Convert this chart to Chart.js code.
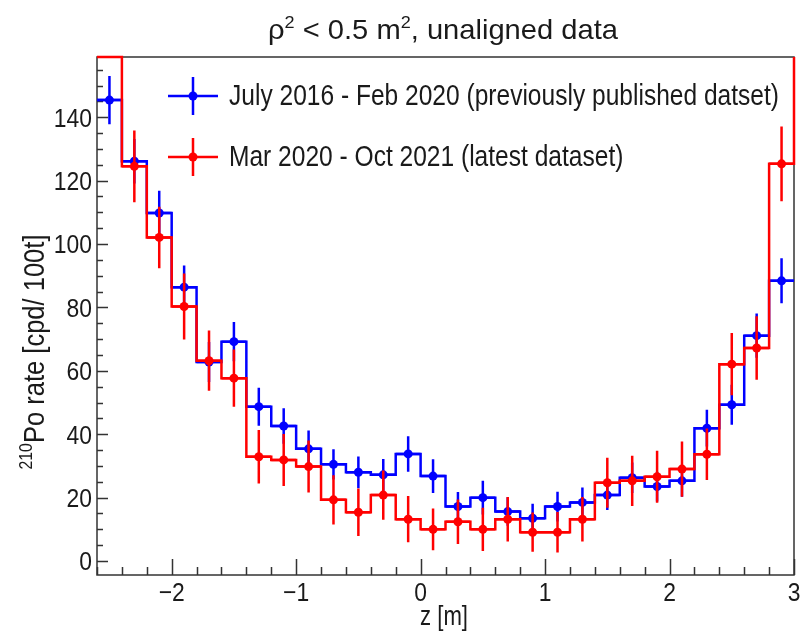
<!DOCTYPE html>
<html>
<head>
<meta charset="utf-8">
<script src="https://cdn.jsdelivr.net/npm/chart.js@4.4.1/dist/chart.umd.min.js"></script>
<style>
  html, body { margin: 0; padding: 0; background: #fff; }
  #wrap { width: 809px; height: 635px; position: relative; }
</style>
</head>
<body>
<div id="wrap"><canvas id="po_chart"></canvas></div>
<script>
const FONT = '"Liberation Sans", Arial, Helvetica, sans-serif';
const TEXT_COLOR = '#1a1a1a';

// bin centres along z [m], bins are 0.2 m wide
const binWidth = 0.2;
const zCenters = [-2.5, -2.3, -2.1, -1.9, -1.7, -1.5, -1.3, -1.1, -0.9, -0.7, -0.5, -0.3, -0.1,
                  0.1, 0.3, 0.5, 0.7, 0.9, 1.1, 1.3, 1.5, 1.7, 1.9, 2.1, 2.3, 2.5, 2.7, 2.9];

// July 2016 - Feb 2020 (previously published)
const blueRate = [145.4, 126.1, 109.8, 86.4, 62.8, 69.2, 48.7, 42.6, 35.4, 30.5, 28.0, 27.2, 33.8,
                  26.8, 17.2, 20.0, 15.6, 13.5, 17.2, 18.5, 20.8, 26.3, 23.5, 25.3, 41.9, 49.3, 71.1, 88.4];
const blueErr = [7.6, 7.0, 7.0, 6.8, 6.3, 6.2, 6.0, 5.6, 5.8, 4.8, 5.0, 5.0, 5.6,
                 5.3, 4.6, 5.3, 4.5, 4.6, 4.7, 4.7, 4.7, 4.8, 4.7, 5.0, 5.8, 6.3, 7.0, 7.1];

// Mar 2020 - Oct 2021 (latest), first bin is above the frame
const redRate = [175, 124.5, 102.1, 80.3, 63.2, 57.7, 32.9, 31.9, 29.8, 19.3, 15.4, 20.8, 13.2,
                 10.0, 12.4, 10.0, 13.2, 9.1, 9.1, 13.2, 24.7, 25.3, 26.6, 29.0, 33.7, 62.1, 67.2, 125.3];
const redErr = [13, 11.3, 9.7, 10.4, 9.5, 9.0, 8.4, 8.2, 8.2, 7.8, 7.5, 7.8, 7.3,
                6.6, 7.0, 6.8, 7.0, 6.2, 6.4, 7.0, 7.9, 7.9, 8.2, 8.7, 8.1, 9.8, 10.0, 11.8];
// the red histogram climbs out of the frame again at the right edge
const redOverflow = 175;

const seriesLabels = ['July 2016 - Feb 2020 (previously published datset)',
                      'Mar 2020 - Oct 2021 (latest dataset)'];
const seriesColors = ['#0000ff', '#ff0000'];

const xTickValues = [-2, -1, 0, 1, 2, 3];
const yTickValues = [0, 20, 40, 60, 80, 100, 120, 140];
const xMin = -2.6, xMax = 3.0;
const yMin = -4.4, yMax = 159;

// the picture is squeezed sideways, so text is drawn a bit narrow
const TICK_SIZE = 26;
const TICK_SX = 0.88;

// histogram outline: one point per left bin edge, plus the closing right edge
function stepPoints(values, lastValue) {
    let pts = values.map((v, i) => ({x: zCenters[i] - binWidth / 2, y: Math.min(v, yMax)}));
    pts.push({x: zCenters[zCenters.length - 1] + binWidth / 2, y: Math.min(lastValue, yMax)});
    return pts;
}

function markerPoints(values, errors) {
    return values.map((v, i) => ({x: zCenters[i], y: v, err: errors[i]}));
}

// minus sign the way ROOT prints it
function fmtTick(v) {
    return v < 0 ? '\u2212' + Math.abs(v) : String(v);
}

function richWidth(ctx, parts, size) {
    let total = 0;
    for (const p of parts) {
        ctx.font = (p[1] ? size * 0.62 : size) + 'px ' + FONT;
        total += ctx.measureText(p[0]).width;
    }
    return total;
}

// text with superscript pieces: parts = [[text, isSup], ...], sx = horizontal squeeze
function drawRich(ctx, parts, x, y, size, align, sx) {
    let total = richWidth(ctx, parts, size);
    ctx.save();
    ctx.translate(x, y);
    ctx.scale(sx, 1);
    let cx = 0;
    if (align === 'center') cx = -total / 2;
    if (align === 'right') cx = -total;
    ctx.textAlign = 'left';
    ctx.textBaseline = 'alphabetic';
    for (const p of parts) {
        ctx.font = (p[1] ? size * 0.62 : size) + 'px ' + FONT;
        ctx.fillText(p[0], cx, p[1] ? -size * 0.4 : 0);
        cx += ctx.measureText(p[0]).width;
    }
    ctx.restore();
}

// squeeze factor so that a text run spans a given width
function fitSx(ctx, parts, size, width) {
    return width / richWidth(ctx, parts, size);
}

const rootStyle = {
    id: 'root_style',
    beforeDatasetsDraw(chart) {
        const ctx = chart.ctx;
        const a = chart.chartArea;
        const xs = chart.scales.x, ys = chart.scales.y;
        ctx.save();
        ctx.strokeStyle = '#333';
        ctx.lineWidth = 1.5;
        ctx.strokeRect(a.left, a.top, a.right - a.left, a.bottom - a.top);
        // ticks point into the frame, ROOT style
        ctx.beginPath();
        for (let k = 0; k <= 28; k++) {
            let v = xMin + k * 0.2;
            let major = Math.abs(v - Math.round(v)) < 1e-6;
            let px = Math.round(xs.getPixelForValue(v)) + 0.5;
            ctx.moveTo(px, a.bottom);
            ctx.lineTo(px, a.bottom - (major ? 16 : 8));
        }
        for (let v = 0; v <= 155; v += 5) {
            let major = v % 20 === 0;
            let py = Math.round(ys.getPixelForValue(v)) + 0.5;
            ctx.moveTo(a.left, py);
            ctx.lineTo(a.left + (major ? 11 : 6), py);
        }
        ctx.stroke();
        ctx.restore();
    },
    beforeDatasetDraw(chart, args) {
        const ds = chart.data.datasets[args.index];
        if (!ds.isMarkers) return;
        const ctx = chart.ctx;
        const a = chart.chartArea;
        const xs = chart.scales.x, ys = chart.scales.y;
        ctx.save();
        ctx.beginPath();
        ctx.rect(a.left, a.top, a.right - a.left, a.bottom - a.top);
        ctx.clip();
        ctx.strokeStyle = ds.pointBackgroundColor;
        ctx.lineWidth = 2.5;
        ctx.beginPath();
        for (const p of ds.data) {
            let px = xs.getPixelForValue(p.x);
            ctx.moveTo(px, ys.getPixelForValue(p.y - p.err));
            ctx.lineTo(px, ys.getPixelForValue(p.y + p.err));
            let py = ys.getPixelForValue(p.y);
            ctx.moveTo(xs.getPixelForValue(p.x - binWidth / 2), py);
            ctx.lineTo(xs.getPixelForValue(p.x + binWidth / 2), py);
        }
        ctx.stroke();
        ctx.restore();
    },
    afterDraw(chart) {
        const ctx = chart.ctx;
        const xs = chart.scales.x, ys = chart.scales.y;
        ctx.save();
        ctx.fillStyle = TEXT_COLOR;

        // tick labels
        for (const t of xs.ticks) {
            drawRich(ctx, [[fmtTick(t.value), false]], xs.getPixelForValue(t.value), 601, TICK_SIZE, 'center', TICK_SX);
        }
        for (const t of ys.ticks) {
            drawRich(ctx, [[fmtTick(t.value), false]], 92, ys.getPixelForValue(t.value) + 9.3, TICK_SIZE, 'right', TICK_SX);
        }

        // title
        const titleParts = [['\u03c1', false], ['2', true], [' < 0.5 m', false], ['2', true],
                            [', unaligned data', false]];
        drawRich(ctx, titleParts, 443, 39, 28, 'center', fitSx(ctx, titleParts, 28, 350));

        // x title
        const xTitle = [['z [m]', false]];
        drawRich(ctx, xTitle, 444, 625, 28, 'center', fitSx(ctx, xTitle, 28, 48));

        // y title, rotated
        const yTitle = [['210', true], ['Po rate [cpd/ 100t]', false]];
        ctx.save();
        ctx.translate(44, 352);
        ctx.rotate(-Math.PI / 2);
        drawRich(ctx, yTitle, 0, 0, 29, 'center', fitSx(ctx, yTitle, 29, 235));
        ctx.restore();

        // legend
        const legendSx = fitSx(ctx, [[seriesLabels[0], false]], 29, 550);
        const rows = [96, 157];
        for (let i = 0; i < 2; i++) {
            let y = rows[i];
            ctx.strokeStyle = seriesColors[i];
            ctx.fillStyle = seriesColors[i];
            ctx.lineWidth = 2.5;
            ctx.beginPath();
            ctx.moveTo(168, y);
            ctx.lineTo(218, y);
            ctx.moveTo(193, y - 19);
            ctx.lineTo(193, y + 19);
            ctx.stroke();
            ctx.beginPath();
            ctx.arc(193, y, 4.5, 0, Math.PI * 2);
            ctx.fill();
            ctx.fillStyle = TEXT_COLOR;
            drawRich(ctx, [[seriesLabels[i], false]], 229, y + 9, 29, 'left', legendSx);
        }
        ctx.restore();
    }
};

const ctx = document.getElementById('po_chart').getContext('2d');
const chart = new Chart(ctx, {
    type: 'line',
    data: {
        datasets: [
            {
                label: seriesLabels[1] + ' markers',
                isMarkers: true,
                data: markerPoints(redRate, redErr),
                showLine: false,
                pointRadius: 4.5,
                pointBorderWidth: 0,
                pointBackgroundColor: seriesColors[1],
                pointBorderColor: seriesColors[1],
                order: 0
            },
            {
                label: seriesLabels[1],
                data: stepPoints(redRate, redOverflow),
                stepped: true,
                borderColor: seriesColors[1],
                borderWidth: 2.5,
                pointRadius: 0,
                fill: false,
                clip: 3,
                order: 1
            },
            {
                label: seriesLabels[0] + ' markers',
                isMarkers: true,
                data: markerPoints(blueRate, blueErr),
                showLine: false,
                pointRadius: 4.5,
                pointBorderWidth: 0,
                pointBackgroundColor: seriesColors[0],
                pointBorderColor: seriesColors[0],
                order: 2
            },
            {
                label: seriesLabels[0],
                data: stepPoints(blueRate, blueRate[blueRate.length - 1]),
                stepped: true,
                borderColor: seriesColors[0],
                borderWidth: 2.5,
                pointRadius: 0,
                fill: false,
                clip: 3,
                order: 3
            }
        ]
    },
    options: {
        responsive: true,
        maintainAspectRatio: false,
        animation: false,
        events: [],
        layout: {padding: {top: 57, right: 15, left: 0, bottom: 0}},
        plugins: {
            legend: {display: false},
            title: {display: false},
            tooltip: {enabled: false}
        },
        scales: {
            x: {
                type: 'linear',
                min: xMin,
                max: xMax,
                grid: {display: false, drawTicks: false},
                border: {display: false},
                afterBuildTicks: (s) => { s.ticks = xTickValues.map(v => ({value: v})); },
                afterFit: (s) => { s.height = 60; },
                ticks: {display: false}
            },
            y: {
                type: 'linear',
                min: yMin,
                max: yMax,
                grid: {display: false, drawTicks: false},
                border: {display: false},
                afterBuildTicks: (s) => { s.ticks = yTickValues.map(v => ({value: v})); },
                afterFit: (s) => { s.width = 97; },
                ticks: {display: false}
            }
        }
    },
    plugins: [rootStyle]
});
</script>
</body>
</html>
